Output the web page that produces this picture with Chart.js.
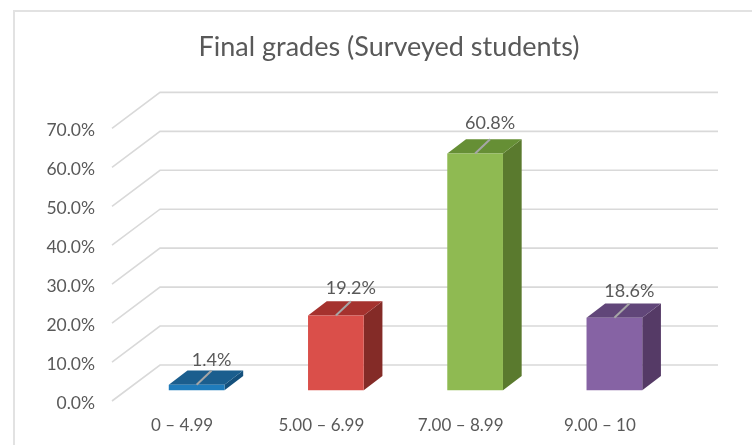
<!DOCTYPE html>
<html lang="en">
<head>
<meta charset="UTF-8">
<title>Final grades</title>
<script src="https://cdn.jsdelivr.net/npm/chart.js"></script>
<style>
    html, body { margin: 0; padding: 0; background: #fff; }
    #wrap { position: relative; width: 752px; height: 445px; overflow: hidden; }
    #frame { position: absolute; left: 13px; top: 10px; width: 760px; height: 460px; border: 2px solid #e2e2e2; box-sizing: border-box; }
    canvas { position: absolute; left: 0; top: 0; }
</style>
</head>
<body>
<div id="wrap">
    <div id="frame"></div>
    <canvas id="gradesChart" width="752" height="445"></canvas>
</div>
<script>
const chartTitle = 'Final grades (Surveyed students)';
const categories = ['0 \u2013 4.99', '5.00 \u2013 6.99', '7.00 \u2013 8.99', '9.00 \u2013 10'];
const percentages = [1.4, 19.2, 60.8, 18.6];
const yTicks = [0, 10, 20, 30, 40, 50, 60, 70];

const frontColors = ['#1f7cbc', '#da4f4a', '#8fba52', '#8663a4'];
const topColors = ['#1b5e8e', '#a5322e', '#668f35', '#614679'];
const sideColors = ['#14507c', '#842b27', '#5a7a2e', '#553a66'];
const labelLift = [10, 13, 16, 12];

// depth of the fake 3D box
const barDepthX = 18.7, barDepthY = 14.3;
const wallDepthX = 48, wallDepthY = 36;
const wallRight = 718;
const font = 'Lato, Carlito, sans-serif';

const fake3d = {
    id: 'fake3d',
    beforeDatasetsDraw(chart) {
        const ctx = chart.ctx, y = chart.scales.y;
        ctx.save();
        ctx.strokeStyle = '#d9d9d9';
        ctx.lineWidth = 1.6;
        yTicks.forEach(t => {
            const py = y.getPixelForValue(t);
            ctx.beginPath();
            ctx.moveTo(112, py);
            ctx.lineTo(112 + wallDepthX, py - wallDepthY);
            ctx.lineTo(wallRight, py - wallDepthY);
            ctx.stroke();
        });
        // sides and tops go behind the bar fronts
        chart.getDatasetMeta(0).data.forEach((bar, i) => {
            const l = bar.x - bar.width / 2, r = bar.x + bar.width / 2;
            ctx.fillStyle = sideColors[i];
            ctx.beginPath();
            ctx.moveTo(r, bar.y);
            ctx.lineTo(r + barDepthX, bar.y - barDepthY);
            ctx.lineTo(r + barDepthX, bar.base - barDepthY);
            ctx.lineTo(r, bar.base);
            ctx.closePath();
            ctx.fill();
            ctx.fillStyle = topColors[i];
            ctx.beginPath();
            ctx.moveTo(l, bar.y);
            ctx.lineTo(l + barDepthX, bar.y - barDepthY);
            ctx.lineTo(r + barDepthX, bar.y - barDepthY);
            ctx.lineTo(r, bar.y);
            ctx.closePath();
            ctx.fill();
        });
        ctx.restore();
    },
    afterDatasetsDraw(chart) {
        const ctx = chart.ctx;
        ctx.save();
        ctx.textAlign = 'center';
        ctx.textBaseline = 'middle';
        ctx.font = '18px ' + font;
        chart.getDatasetMeta(0).data.forEach((bar, i) => {
            ctx.strokeStyle = '#a6a6a6';
            ctx.lineWidth = 2;
            ctx.beginPath();
            ctx.moveTo(bar.x, bar.y);
            ctx.lineTo(bar.x + barDepthX * 0.8, bar.y - barDepthY);
            ctx.stroke();
            ctx.fillStyle = '#595959';
            ctx.fillText(percentages[i].toFixed(1) + '%', bar.x + barDepthX * 0.8, bar.y - barDepthY - labelLift[i]);
        });
        ctx.restore();
    }
};

new Chart(document.getElementById('gradesChart'), {
    type: 'bar',
    data: {
        labels: categories,
        datasets: [{
            data: percentages,
            yAxisID: 'yBar',
            backgroundColor: frontColors,
            borderWidth: 0,
            barPercentage: 0.4,
            categoryPercentage: 1
        }]
    },
    options: {
        responsive: false,
        animation: false,
        layout: { padding: { left: 28, right: 2, top: 0, bottom: 0 } },
        plugins: {
            legend: { display: false },
            tooltip: { enabled: false },
            title: {
                display: true,
                text: chartTitle,
                color: '#595959',
                font: { family: font, size: 27, weight: 'normal' },
                padding: { top: 31, bottom: 65 }
            }
        },
        scales: {
            x: {
                grid: { display: false },
                border: { display: false },
                ticks: { color: '#595959', font: { family: font, size: 17 }, labelOffset: -14.5, padding: 6, maxRotation: 0 },
                afterFit: s => { s.height = 44; }
            },
            y: {
                position: 'left',
                min: 0,
                max: 70,
                grid: { display: false },
                border: { display: false },
                ticks: {
                    stepSize: 10,
                    color: '#595959',
                    padding: 24,
                    labelOffset: 2,
                    font: { family: font, size: 17.5 },
                    callback: v => v.toFixed(1) + '%'
                },
                afterFit: s => { s.width = 99; }
            },
            // the bars stand on a floor that sits a bit behind the front axis
            yBar: {
                position: 'right',
                min: -2.76,
                max: 67.24,
                grid: { display: false },
                border: { display: false },
                ticks: { display: false },
                afterFit: s => { s.width = 66; }
            }
        }
    },
    plugins: [fake3d]
});
</script>
</body>
</html>
